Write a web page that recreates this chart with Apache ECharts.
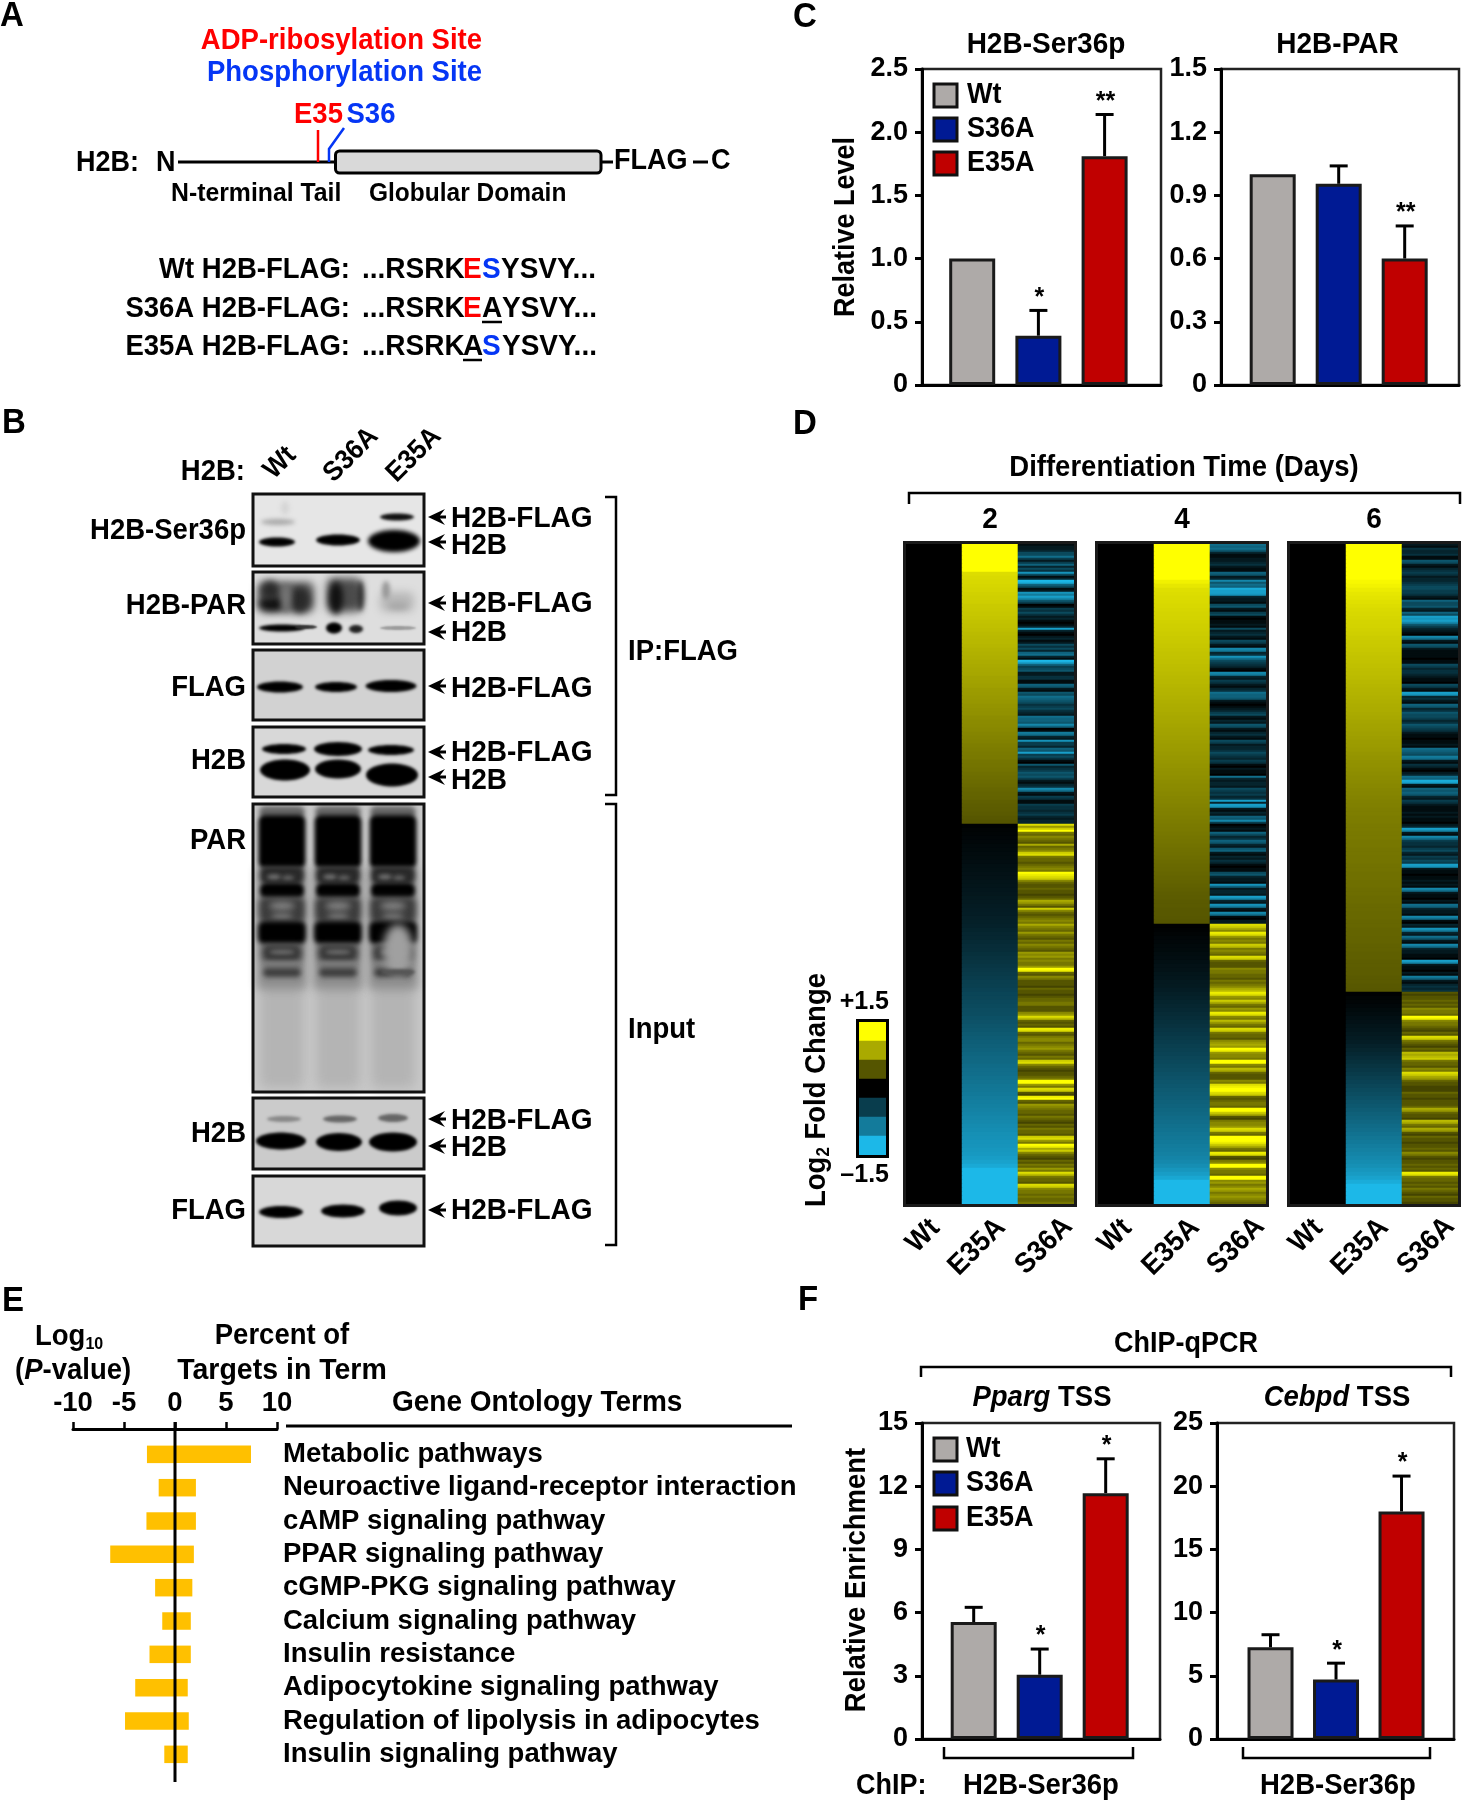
<!DOCTYPE html>
<html><head><meta charset="utf-8">
<style>html,body{margin:0;padding:0;background:#fff}#c{width:1462px;height:1800px}</style>
<script src="https://cdn.jsdelivr.net/npm/echarts@6/dist/echarts.min.js"></script>
</head><body><div id="c"></div>
<script>
// ---------- DATA ----------
const genotypes = ['Wt','S36A','E35A'];
const barColors = ['#aeaaa8','#001a94','#c00000'];
// Panel C
const cSerValues = [1.0,0.39,1.81];
const cSerErrTop = [null,0.59,2.14];
const cSerStars  = ['','*','**'];
const cParValues = [1.0,0.955,0.60];
const cParErrTop = [null,1.04,0.755];
const cParStars  = ['','','**'];
const cSerTicks = {max:2.5,interval:0.5};
const cParTicks = {max:1.5,interval:0.3};
// Panel F
const fPpargValues = [5.55,3.05,11.67];
const fPpargErrTop = [6.25,4.27,13.3];
const fPpargStars  = ['','*','*'];
const fCebpdValues = [7.25,4.7,18.0];
const fCebpdErrTop = [8.25,6.0,20.8];
const fCebpdStars  = ['','*','*'];
// Panel E
const goTerms = ['Metabolic pathways','Neuroactive ligand-receptor interaction','cAMP signaling pathway','PPAR signaling pathway','cGMP-PKG signaling pathway','Calcium signaling pathway','Insulin resistance','Adipocytokine signaling pathway','Regulation of lipolysis in adipocytes','Insulin signaling pathway'];
const goLogP = [-2.75,-1.6,-2.8,-6.35,-1.95,-1.25,-2.5,-3.9,-4.9,-1.05];
const goPercent = [7.45,2.05,2.05,1.85,1.7,1.55,1.55,1.25,1.35,1.25];
// Panel D: heat map, one value per row (E35A in 1/100, S36A in 1/10 of log2 fold change)
const heatColumns = ['Wt','E35A','S36A'];
const wtLevel = 0;
const colorbarValues = [1.5,1,0.5,0,-0.5,-1,-1.5];
const e35aDay2 = [150,150,150,150,150,150,150,
130,128,127,126,125,123,122,121,119,118,117,116,114,113,112,110,109,108,107,105,104,103,101,100,99,98,96,95,94,92,91,90,89,87,86,85,83,82,81,80,78,77,76,74,73,72,71,69,68,67,65,64,63,62,60,59,58,56,55,54,53,51,50,
-2,-3,-4,-5,-6,-7,-8,-9,-10,-11,-12,-13,-14,-15,-16,-17,-18,-19,-20,-21,-22,-23,-24,-25,-26,-27,-29,-31,-32,-34,-36,-37,-39,-41,-42,-44,-46,-47,-49,-51,-52,-54,-56,-57,-59,-60,-62,-63,-65,-67,-69,-71,-73,-75,-77,-78,-80,-82,-84,-85,-87,-89,-90,-92,-94,-96,-97,-99,-101,-103,-104,-106,-108,-110,-111,-113,-115,-117,-118,-120,-121,-123,-125,-128,-132,-138,
-150,-150,-150,-150,-150,-150,-150,-150,-150];
const s36aDay2 = [-1,-2,-2,-3,-6,-6,-9,-5,-2,-5,-8,-3,-6,-4,-12,-6,-1,-3,-15,-14,-8,-6,-1,-2,-12,-10,-13,-11,-7,-5,0,-1,-5,-4,-6,-4,-2,-3,-1,0,-1,-3,-13,-3,-1,0,-2,-3,-1,-2,-6,-4,-6,-3,-8,-9,-3,-1,-15,-13,-8,-5,-6,-7,-2,-2,-4,-4,-1,-1,-8,-7,-2,-1,-7,-6,-9,-8,-7,-6,-4,-5,-6,-4,-3,-2,-9,-8,-8,-7,-11,-8,0,-1,-10,-9,-3,-2,-12,-5,-5,-3,-8,-7,-13,-5,-6,-4,-1,0,-7,-3,-4,-5,-7,-6,-7,-5,-2,-1,-3,-4,-11,-9,-2,-1,-5,-4,-1,-1,-5,-4,-4,-3,-4,-5,-3,-2,-3,-3,
13,9,12,15,7,6,8,7,6,5,10,6,7,8,12,13,7,6,6,5,6,7,8,7,15,14,13,12,8,6,5,5,6,5,5,4,5,6,10,9,7,5,12,8,6,5,6,7,8,7,10,8,7,6,9,7,6,5,7,6,8,7,6,5,9,8,9,7,8,7,7,9,15,14,6,5,8,7,5,5,5,4,6,5,5,4,5,6,6,7,7,5,5,5,8,9,13,11,6,5,6,5,14,13,6,5,7,8,8,6,7,8,9,7,6,5,7,6,12,13,8,6,5,4,5,5,6,7,15,15,9,7,13,12,5,4,14,15,6,5,9,8,7,6,6,5,7,6,5,4,6,5,7,6,6,5,12,13,9,7,15,14,10,12,8,6,5,4,6,5,7,6,9,7,13,11,7,6,6,5,13,12,8,7,7,6,7,6,6,7];
const e35aDay4 = [150,150,150,150,150,150,150,150,150,142,
136,131,130,129,128,127,126,125,124,123,122,121,120,119,118,117,116,115,114,113,112,111,110,109,108,107,106,105,104,103,102,101,100,99,98,97,96,95,94,93,92,91,90,89,88,87,86,85,84,83,82,81,80,79,78,77,76,75,74,73,72,71,70,69,68,67,66,65,64,63,62,61,60,59,58,57,56,55,54,53,53,52,52,51,50,
-1,-2,-3,-5,-6,-7,-8,-10,-11,-12,-14,-15,-17,-18,-20,-21,-23,-25,-27,-29,-31,-33,-35,-37,-39,-41,-43,-45,-47,-49,-51,-53,-55,-57,-59,-61,-63,-65,-67,-69,-71,-73,-75,-77,-79,-81,-83,-85,-87,-89,-91,-93,-95,-97,-99,-101,-103,-105,-108,-111,-116,-122,-128,-136,
-150,-150,-150,-150,-150,-150];
const s36aDay4 = [-9,-8,-9,-7,-3,-1,-1,-2,-2,-3,-4,-2,-1,-1,-8,-7,-2,-3,-11,-7,-9,-8,-14,-13,-13,-12,-3,-2,-2,-1,-6,-7,-2,-1,-5,-6,-1,0,-1,-1,-2,-1,-6,-2,-3,-4,-2,-1,-6,-5,-2,-1,-11,-10,-3,-4,-12,-9,-6,-5,-4,-3,-1,0,-11,-10,-3,-2,-5,-4,-2,-1,-3,-4,-9,-8,-8,-7,-2,-1,0,-1,-2,-3,-5,-6,-2,-1,-3,-2,-7,-6,-2,-1,-3,-4,-2,-1,-6,-5,-2,-3,-3,-4,-6,-5,-4,-3,-5,-4,-1,0,-2,-1,-1,0,-9,-3,-2,-3,-3,-2,-6,-5,-4,-5,-3,-4,-13,-3,-13,-12,-2,-1,-3,-2,-8,-7,-11,-5,0,-1,-2,-1,-8,-6,-3,-4,-8,-7,-3,-2,-7,-8,-2,-1,-3,-2,-4,-3,-1,0,-1,-1,-6,-7,-3,-2,-2,-1,-12,-8,-2,-3,-3,-2,-13,-11,-3,-2,-12,-10,-2,-1,-11,-9,-1,0,-2,-2,
13,12,10,8,14,13,9,7,8,7,12,11,7,8,7,6,13,12,6,5,5,5,8,7,7,6,6,5,7,6,7,8,10,11,14,13,9,8,12,10,7,6,9,8,14,13,8,7,11,9,7,6,13,12,7,6,6,5,8,9,10,9,15,14,9,8,8,7,15,15,8,7,11,10,6,5,5,5,8,7,13,14,15,15,13,12,6,5,6,7,7,6,15,15,12,10,5,4,7,8,8,9,13,12,7,6,15,15,15,14,12,10,7,6,14,13,5,4,7,8,15,15,8,7,7,6,15,15,8,9,7,8,10,9,7,8,9,8,7,6];
const e35aDay6 = [150,150,150,150,150,150,150,150,150,146,
143,139,136,134,132,130,128,127,126,125,124,123,122,120,119,118,117,116,115,114,113,112,111,110,108,107,106,105,104,103,102,101,100,99,97,96,95,94,93,92,91,90,88,87,86,85,84,83,82,81,80,79,78,77,76,75,74,74,73,73,72,72,71,71,70,70,69,69,68,68,67,67,66,66,65,65,64,64,63,63,62,62,61,61,60,60,59,59,58,58,57,57,56,56,55,55,54,54,53,53,52,51,
-1,-3,-4,-6,-8,-10,-12,-14,-16,-18,-20,-22,-24,-27,-30,-33,-36,-39,-42,-45,-48,-51,-54,-57,-60,-63,-66,-69,-72,-75,-78,-81,-84,-87,-90,-93,-96,-99,-102,-105,-108,-111,-114,-117,-122,-126,-132,-140,
-150,-150,-150,-150,-150];
const s36aDay6 = [-2,-1,-4,-3,-3,-4,-1,-1,-7,-6,-2,-1,-3,-4,-5,-4,-2,-3,-3,-4,-5,-6,-6,-5,-5,-4,-2,-1,-8,-6,-6,-7,-3,-2,-8,-6,-13,-12,-13,-11,-7,-5,-3,-2,-1,0,-11,-9,-2,-1,-7,-6,-2,-1,-1,-1,-1,0,-1,-1,-6,-5,-3,-4,-4,-3,-2,-1,-1,0,-6,-5,-2,-1,-13,-12,-3,-4,-2,-1,-8,-7,-3,-4,-7,-6,-6,-5,-3,-4,-7,-6,-5,-4,-2,-1,-1,0,-1,-1,-2,-1,-9,-8,-7,-6,-10,-9,-2,-1,-4,-3,-1,0,-2,-3,-9,-8,-14,-13,-2,-1,-8,-7,-8,-7,-3,-2,-5,-4,-2,-1,-1,-1,-2,-1,-2,-1,-1,0,-2,-3,-13,-11,-2,-1,-11,-9,-5,-4,-4,-3,-5,-6,-3,-2,-5,-4,-6,-5,-13,-12,-2,-1,-1,0,-1,-1,-2,-1,-2,-1,-11,-9,-2,-1,-1,0,-2,-1,-9,-8,-3,-2,-2,-1,-11,-9,-1,0,-3,-2,-12,-10,-3,-2,-9,-7,-2,-1,-11,-9,-3,-2,-2,-1,-1,0,-13,-11,-2,-1,-1,0,-2,-1,-10,-8,-2,-1,-3,-4,-3,-4,
5,4,5,5,6,5,6,5,8,7,7,6,15,14,8,7,7,6,5,4,6,5,13,12,7,6,5,4,6,5,11,10,11,12,7,6,6,5,8,7,13,12,10,9,6,5,5,4,4,4,6,5,5,4,5,5,5,6,10,9,6,5,5,4,11,10,7,6,10,9,5,4,6,5,5,4,5,5,6,5,8,7,5,4,5,5,6,5,6,5,14,13,7,6,6,5,6,5,7,6,5,4,6,5,5,4];

// ---------- HELPERS ----------
const FF = '"Liberation Sans"';
const g = [];
function T(text,x,y,size,o={}){
  const f = `${o.italic?'italic ':''}${o.normal?'':'bold '}${size}px ${FF}`;
  const st = {text,fill:o.color||'#000',font:f,align:o.align||'left',textAlign:o.align||'left',verticalAlign:'middle',textVerticalAlign:'middle'};
  if(o.rich) st.rich=o.rich;
  const isUp=o.rot&&Math.abs(o.rot-Math.PI/2)<0.01;
  g.push({type:'text',x:x+(isUp?2:0),y:y+(o.rot?0:2),rotation:o.rot||0,scaleY:1.06,z:50,silent:true,style:st});
}
function L(pts,w=3,c='#000',z=40){ g.push({type:'polyline',z,silent:true,shape:{points:pts},style:{stroke:c,lineWidth:w,fill:null,lineJoin:'miter'}}); }
function R(x,y,w,h,o={}){ g.push({type:'rect',z:o.z||40,silent:true,shape:{x,y,width:w,height:h,r:o.r||0},style:{fill:o.fill==null?null:o.fill,stroke:o.stroke||null,lineWidth:o.lw||0}}); }
// soft blot shapes: only the blurred shadow of an off-page shape is visible
const OFF=3000;
function B(cx,cy,w,h,c='#000',blur=3,op=1){ g.push({type:'ellipse',z:12,silent:true,shape:{cx:cx-OFF,cy,rx:w/2,ry:h/2},style:{fill:c,shadowBlur:blur,shadowColor:c,shadowOffsetX:OFF,opacity:op}}); }
function M(cx,y0,y1,w,c,blur=5,op=1){ g.push({type:'rect',z:12,silent:true,shape:{x:cx-w/2-OFF,y:y0,width:w,height:y1-y0,r:6},style:{fill:c,shadowBlur:blur,shadowColor:c,shadowOffsetX:OFF,opacity:op}}); }

// ---------- PANEL LETTERS ----------
[['A',0,14],['B',2,421],['C',793,15],['D',793,422],['E',2,1299],['F',798,1298]].forEach(a=>T(a[0],a[1],a[2],33));

// ---------- PANEL A ----------
T('ADP-ribosylation Site',482,39,27.5,{color:'#ff0000',align:'right'});
T('Phosphorylation Site',482,71,27.5,{color:'#0536f5',align:'right'});
T('E35',294,113,27.5,{color:'#ff0000'});
T('S36',346.5,113,27.5,{color:'#0536f5'});
L([[318,130],[318,162]],2.5,'#ff0000',41);
L([[344,128],[329,149],[329,162]],2.5,'#0536f5',41);
T('H2B:',76,161,27); T('N',156,161,27);
L([[178,162],[336,162]],3);
R(335.5,151,265.5,22,{fill:'#d9d9d9',stroke:'#000',lw:3,r:4});
L([[601,162],[613,162]],3);
T('FLAG',614,159.5,27); L([[693,162],[708,162]],3); T('C',711,159.5,27);
T('N-terminal Tail',171,192,24.8); T('Globular Domain',369,192,24.5);
const seqY=[268,306.5,344.5];
T('Wt H2B-FLAG:',350,seqY[0],27.5,{align:'right'});
T('S36A H2B-FLAG:',350,seqY[1],27.5,{align:'right'});
T('E35A H2B-FLAG:',350,seqY[2],27.5,{align:'right'});
const SB='#0536f5',SR='#ff0000';
[[ '...RSRK',362,'#000'],['E',463,SR],['S',482,SB],['YSVY...',501,'#000']].forEach(s=>T(s[0],s[1],seqY[0],28,{color:s[2]}));
[[ '...RSRK',362,'#000'],['E',463,SR],['A',482,'#000'],['YSVY...',502,'#000']].forEach(s=>T(s[0],s[1],seqY[1],28,{color:s[2]}));
[[ '...RSRK',362,'#000'],['A',463,'#000'],['S',482,SB],['YSVY...',502,'#000']].forEach(s=>T(s[0],s[1],seqY[2],28,{color:s[2]}));
L([[482,322],[502,322]],2.5); L([[463,360],[482,360]],2.5);

// ---------- PANEL B (blots) ----------
T('H2B:',245,470,27.5,{align:'right'});
T('Wt',280,463,26,{rot:Math.PI/4,align:'center'});
T('S36A',351,455,26,{rot:Math.PI/4,align:'center'});
T('E35A',414,455,26,{rot:Math.PI/4,align:'center'});
const blotL=253,blotW=171;
const blotPanels=[[494,72,'#e6e6e6'],[572,72,'#dedede'],[650,70,'#d2d2d2'],[727,70,'#d8d8d8'],[804,288,'#c9c9c9'],[1098,71,'#cbcbcb'],[1176,70,'#d8d8d8']];
blotPanels.forEach(p=>{R(blotL,p[0],blotW,p[1],{fill:p[2],z:10});R(blotL,p[0],blotW,p[1],{stroke:'#111',lw:3,z:30});});
// H2B-Ser36p
B(278,522,34,6,'#aaa',4); B(285,508,8,14,'#d4d4d4',5);
B(277,542,36,9,'#000',3); B(338,540,44,11,'#000',3); B(397,517,34,7,'#111',3); B(394,541,52,22,'#000',4);
// H2B-PAR
M(286,582,612,56,'#555',9); B(272,604,26,14,'#111',7); B(300,600,20,26,'#2a2a2a',7); B(270,590,18,18,'#2a2a2a',7); B(286,598,10,30,'#777',6);
M(344,578,612,34,'#4c4c4c',8); B(336,598,14,32,'#111',6); B(360,596,8,30,'#333',5);
M(397,592,612,34,'#b8b8b8',8); B(386,590,8,18,'#999',4); B(398,606,20,8,'#aaa',5);
B(282,628,46,7,'#000',3); B(306,627,22,4,'#333',2); B(334,628,16,11,'#000',3); B(356,629,14,8,'#222',3); B(398,628,36,4,'#999',2);
// FLAG
B(280,687,46,11); B(336,687,42,10); B(391,686,51,12);
// H2B
B(284,749,44,10); B(338,749,48,14); B(391,750,46,10);
B(285,770,50,21); B(338,769,46,19); B(392,775,52,23);
// PAR
const parL=[282,338,393];
parL.forEach(x=>{ M(x,985,1088,44,'#b4b4b4',12); M(x,865,990,50,'#8e8e8e',10);
  M(x,806,818,46,'#666',5); M(x,815,868,47,'#000',4); M(x,866,884,44,'#2a2a2a',5);
  B(x-8,877,14,5,'#777',4); B(x+6,878,12,5,'#666',4); M(x,883,898,44,'#000',4);
  M(x,897,922,46,'#3c3c3c',6); B(x,906,26,8,'#858585',6); B(x,917,22,8,'#787878',6); M(x,921,944,48,'#000',5);
  M(x,944,962,40,'#383838',6); B(x,952,26,4,'#777',4); M(x,962,969,38,'#7c7c7c',5); M(x,968,977,38,'#3e3e3e',5); });
B(398,950,30,52,'#a0a0a0',9); B(398,972,34,6,'#555',3);
// H2B input
B(284,1119,34,6,'#888',3); B(340,1119,34,7,'#666',3); B(393,1118,30,8,'#666',3);
B(281,1141,50,17); B(339,1142,46,18); B(393,1142,48,19);
// FLAG input
B(281,1212,44,12); B(343,1211,44,13); B(398,1208,38,15);
// labels
[['H2B-Ser36p',530],['H2B-PAR',605],['FLAG',687],['H2B',760],['PAR',840],['H2B',1133],['FLAG',1210]].forEach(a=>T(a[0],246,a[1]-1,27.5,{align:'right'}));
const arrows=[[517,518,'H2B-FLAG'],[542,545,'H2B'],[603,603,'H2B-FLAG'],[632,632,'H2B'],[686,688,'H2B-FLAG'],[752,752,'H2B-FLAG'],[777,780,'H2B'],[1119,1120,'H2B-FLAG'],[1146,1147,'H2B'],[1210,1210,'H2B-FLAG']];
arrows.forEach(a=>{ g.push({type:'polygon',z:40,silent:true,shape:{points:[[428,a[0]],[445,a[0]-8],[440,a[0]-1.5],[446,a[0]-1.5],[446,a[0]+1.5],[440,a[0]+1.5],[445,a[0]+8]]},style:{fill:'#000'}}); T(a[2],451,a[1]-1,28); });
L([[605,497],[616,497],[616,795],[605,795]],2.5);
L([[605,804],[616,804],[616,1245],[605,1245]],2.5);
T('IP:FLAG',628,650,27.5); T('Input',628,1028,27.5);

// ---------- TITLES C, F ----------
T('H2B-Ser36p',1046,43,28,{align:'center'}); T('H2B-PAR',1337.5,43,28,{align:'center'});
T('Relative Level',844,227,27,{rot:Math.PI/2,align:'center'});
function legend(x,ys,tx){ genotypes.forEach((n,i)=>{ R(x,ys[i]-11,23,23,{fill:barColors[i],stroke:'#111',lw:3}); T(n,tx,ys[i]-2,27); }); }
legend(934,[95,129,163],967);
legend(934,[1449,1483,1518],966);
T('ChIP-qPCR',1186,1342,27,{align:'center'});
L([[921,1377],[921,1367],[1451,1367],[1451,1377]],2.5);
const itRich={i:{fontStyle:'italic',fontWeight:'bold',fontSize:27.5,fontFamily:FF,fill:'#000',color:'#000'},n:{fontWeight:'bold',fontSize:27.5,fontFamily:FF,fill:'#000',color:'#000'}};
T('{i|Pparg}{n| TSS}',1042,1396,27.5,{align:'center',rich:itRich});
T('{i|Cebpd}{n| TSS}',1337,1396,27.5,{align:'center',rich:itRich});
T('Relative Enrichment',855,1580,27.5,{rot:Math.PI/2,align:'center'});
L([[944,1747],[944,1758],[1133,1758],[1133,1747]],2.5);
L([[1243,1747],[1243,1758],[1430,1758],[1430,1747]],2.5);
T('ChIP:',856,1784,27); T('H2B-Ser36p',963,1784,27.5); T('H2B-Ser36p',1260,1784,27.5);

// ---------- PANEL D text ----------
T('Differentiation Time (Days)',1184,466,27.5,{align:'center'});
L([[909,504],[909,493],[1460,493],[1460,504]],2.5);
T('2',990,518,28,{align:'center'}); T('4',1182,518,28,{align:'center'}); T('6',1374,518,28,{align:'center'});
const subRich={a:{fontWeight:'bold',fontSize:27.5,fontFamily:FF,color:'#000',fill:'#000',lineHeight:30},b:{fontWeight:'bold',fontSize:17,fontFamily:FF,color:'#000',fill:'#000',lineHeight:20,verticalAlign:'bottom'}};
T('{a|Log}{b|2}{a| Fold Change}',815,1090,27.5,{rot:Math.PI/2,align:'center',rich:subRich});
T('+1.5',889,1000,25,{align:'right'}); T('\u20131.5',889,1173,25,{align:'right'});
[[923,1236],[977,1247],[1044,1246],[1115,1236],[1171,1247],[1236,1246],[1306,1236],[1360,1247],[1426,1246]].forEach((p,i)=>T(heatColumns[i%3],p[0],p[1],27,{rot:Math.PI/4,align:'center'}));
[906,1098,1290].forEach(x=>R(x-1.5,542.5,171,663,{stroke:'#1a1a1a',lw:3,z:30}));
R(857.5,1020.5,30,136,{stroke:'#000',lw:3,z:30});

// ---------- PANEL E text ----------
const logRich={a:{fontWeight:'bold',fontSize:27.5,fontFamily:FF,color:'#000',fill:'#000',lineHeight:30},b:{fontWeight:'bold',fontSize:16,fontFamily:FF,color:'#000',fill:'#000',lineHeight:20,verticalAlign:'bottom'},
  p:{fontWeight:'bold',fontStyle:'italic',fontSize:27.5,fontFamily:FF,color:'#000',fill:'#000',lineHeight:30}};
T('{a|Log}{b|10}',35,1335,27.5,{rich:logRich});
T('{a|(}{p|P}{a|-value)}',15,1369,27.5,{rich:logRich});
T('Percent of',282,1334,27.5,{align:'center'}); T('Targets in Term',282,1369,28.5,{align:'center'});
T('Gene Ontology Terms',392,1401,28);
L([[286,1426],[792,1426]],3);
L([[175,1422],[175,1782]],3,'#000',45);

// ---------- CHARTS ----------
const grids=[],xAxes=[],yAxes=[],series=[];
const axisLine3={show:true,onZero:false,lineStyle:{color:'#000',width:3}};
function barPanel(box,xr,ymax,interval,vals,errs,stars,fmt){
  const i=grids.length;
  grids.push({left:box[0],top:box[1],width:box[2],height:box[3],show:true,borderColor:'#222',borderWidth:2.5,backgroundColor:'transparent',containLabel:false});
  xAxes.push({gridIndex:i,type:'value',min:xr[0],max:xr[1],axisLine:axisLine3,axisTick:{show:false},axisLabel:{show:false},splitLine:{show:false}});
  yAxes.push({gridIndex:i,type:'value',min:0,max:ymax,interval,axisLine:axisLine3,axisTick:{show:true,length:7,lineStyle:{color:'#000',width:3}},splitLine:{show:false},
    axisLabel:{margin:14,color:'#000',fontSize:27,fontWeight:'bold',fontFamily:FF,formatter:fmt}});
  series.push({type:'bar',xAxisIndex:i,yAxisIndex:i,barWidth:46,z:3,
    data:vals.map((v,k)=>({value:[k+1,v],itemStyle:{color:barColors[k],borderColor:'#1a1a1a',borderWidth:3}}))});
  series.push({type:'custom',xAxisIndex:i,yAxisIndex:i,z:2,clip:false,encode:{x:0,y:2},
    data:vals.map((v,k)=>[k+1,v,errs[k]==null?v:errs[k]]),
    renderItem:(p,api)=>{
      const a=api.coord([api.value(0),api.value(1)]), b=api.coord([api.value(0),api.value(2)]);
      const kids=[];
      if(Math.abs(a[1]-b[1])>0.5){
        kids.push({type:'line',shape:{x1:a[0],y1:a[1],x2:b[0],y2:b[1]},style:{stroke:'#000',lineWidth:3}});
        kids.push({type:'line',shape:{x1:b[0]-9,y1:b[1],x2:b[0]+9,y2:b[1]},style:{stroke:'#000',lineWidth:3}});
      }
      const s=stars[p.dataIndex];
      if(s) kids.push({type:'text',style:{text:s,x:b[0]+1,y:b[1],align:'center',textAlign:'center',verticalAlign:'bottom',textVerticalAlign:'bottom',font:`bold 25px ${FF}`,fill:'#000'}});
      return {type:'group',children:kids};
    }});
}
const fmt1=v=>v===0?'0':v.toFixed(1), fmt0=v=>String(v);
barPanel([922,69,239,316],[0.2417,3.852],cSerTicks.max,cSerTicks.interval,cSerValues,cSerErrTop,cSerStars,fmt1);
barPanel([1221,69,238,316],[0.2167,3.823],cParTicks.max,cParTicks.interval,cParValues,cParErrTop,cParStars,fmt1);
barPanel([922,1423,238,316],[0.2167,3.823],15,3,fPpargValues,fPpargErrTop,fPpargStars,fmt0);
barPanel([1217,1423,237,316],[0.183,3.801],25,5,fCebpdValues,fCebpdErrTop,fCebpdStars,fmt0);

// heat maps
const heatIdx=[];
function heat(box,cols,rows,data){
  const i=grids.length;
  grids.push({left:box[0],top:box[1],width:box[2],height:box[3],show:false,containLabel:false});
  xAxes.push({gridIndex:i,type:'category',data:cols,show:false});
  yAxes.push({gridIndex:i,type:'category',data:rows,inverse:true,show:false});
  heatIdx.push(series.length);
  series.push({type:'heatmap',xAxisIndex:i,yAxisIndex:i,data,progressive:0,itemStyle:{borderWidth:0}});
}
[[906,e35aDay2,s36aDay2],[1098,e35aDay4,s36aDay4],[1290,e35aDay6,s36aDay6]].forEach(d=>{
  const data=[];
  d[1].forEach((v,r)=>{ data.push([0,r,wtLevel]); data.push([1,r,v/100]); });
  heat([d[0],544,112,660],heatColumns.slice(0,2),d[1].map((_,r)=>r),data);
  heat([d[0]+112,544,56,660],heatColumns.slice(2),d[2].map((_,r)=>r),d[2].map((v,r)=>[0,r,v/10]));
});
heat([859,1022,27,133],['bar'],colorbarValues.map(String),colorbarValues.map((v,r)=>[0,r,v]));

// GO bars
(function(){
  const i=grids.length;
  grids.push({left:73,top:1437.7,width:204,height:333.3,show:false,containLabel:false});
  xAxes.push({gridIndex:i,type:'value',position:'top',offset:8.7,min:-10,max:10,interval:5,splitLine:{show:false},
    axisLine:{show:true,onZero:false,lineStyle:{color:'#000',width:3}},axisTick:{show:true,length:7,lineStyle:{color:'#000',width:2.5}},
    axisLabel:{margin:12,color:'#000',fontSize:27.5,fontWeight:'bold',fontFamily:FF}});
  yAxes.push({gridIndex:i,type:'category',data:goTerms,inverse:true,position:'right',axisLine:{show:false,onZero:false},axisTick:{show:false},
    axisLabel:{show:true,interval:0,margin:6,color:'#000',fontSize:27.5,fontWeight:'bold',fontFamily:FF,align:'left',verticalAlign:'middle'}});
  series.push({type:'bar',xAxisIndex:i,yAxisIndex:i,stack:'go',barWidth:17.5,data:goLogP,itemStyle:{color:'#ffc000'}});
  series.push({type:'bar',xAxisIndex:i,yAxisIndex:i,stack:'go',barWidth:17.5,data:goPercent,itemStyle:{color:'#ffc000'}});
})();

const chart=echarts.init(document.getElementById('c'),null,{renderer:'canvas',width:1462,height:1800});
chart.setOption({
  animation:false,backgroundColor:'#fff',tooltip:{show:false},
  textStyle:{fontFamily:FF},
  grid:grids,xAxis:xAxes,yAxis:yAxes,series,
  visualMap:{type:'continuous',show:false,min:-1.5,max:1.5,dimension:2,seriesIndex:heatIdx,inRange:{color:['#1cb8e8','#000000','#ffff00']}},
  graphic:{elements:g}
});
</script></body></html>
